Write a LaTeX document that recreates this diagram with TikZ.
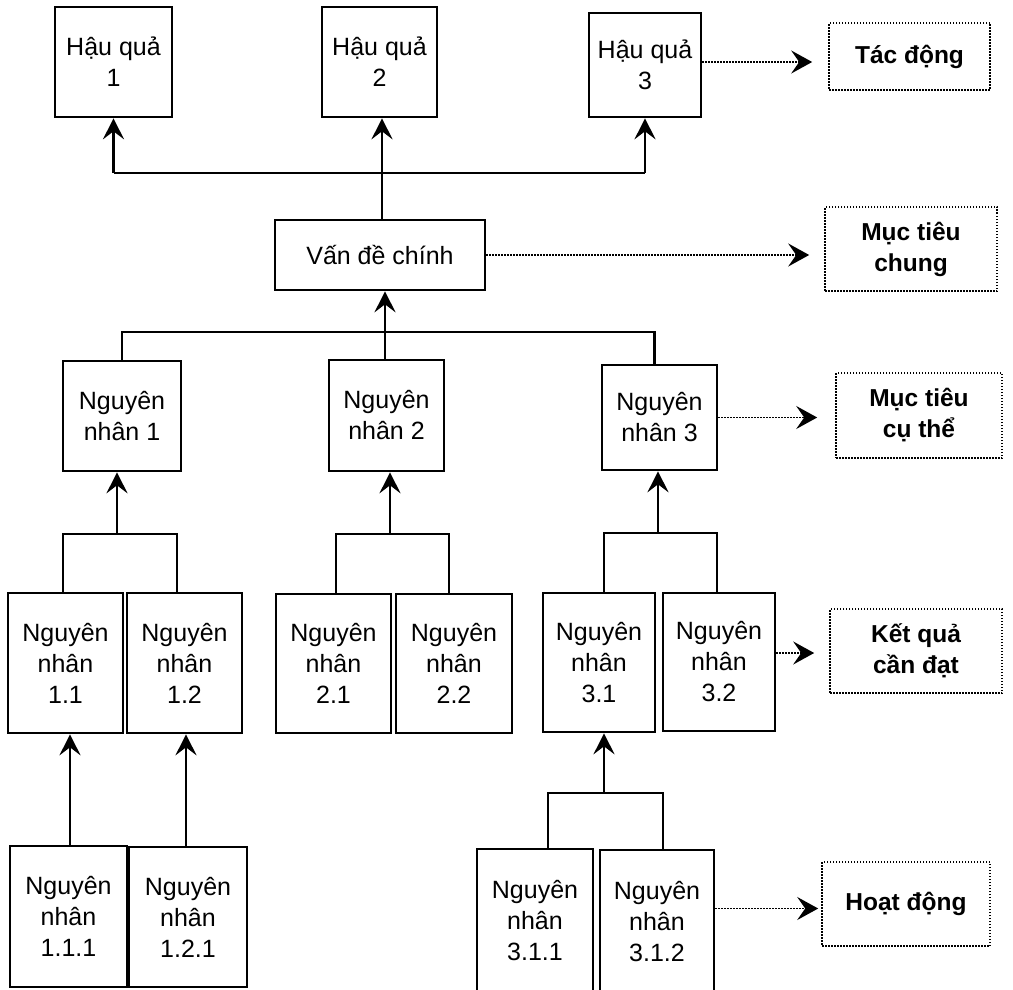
\documentclass[tikz,border=0pt]{standalone}
\usepackage{fontspec}
\setmainfont{Liberation Sans}
\usetikzlibrary{arrows.meta,calc}

% place a node by its corners: style, name, x1, y1, x2, y2, text
\newcommand\boxat[7]{%
  \node[#1, minimum width={(#5-#3)*1pt}, minimum height={(#6-#4)*1pt}]
    (#2) at ({(#3+#5)/2},{(#4+#6)/2}) {#7};}

\begin{document}
\begin{tikzpicture}[x=1pt,y=-1pt,
  box/.style={draw, line width=2.6pt, inner sep=0pt, align=center,
    font=\fontsize{25}{31}\selectfont},
  goal/.style={draw, line width=1.6pt, dash pattern=on 1.5pt off 1.5pt,
    inner sep=0pt, align=center, font=\fontsize{24.5}{31}\selectfont\bfseries},
  link/.style={line width=2.4pt},
  up/.style={link, -{Stealth[length=21pt,width=21pt,inset=8pt]}},
  lead/.style={line width=1.9pt, dash pattern=on 1.6pt off 1.4pt,
    -{Stealth[length=21pt,width=23pt,inset=8pt]}}
]
\useasboundingbox (0,0) rectangle (1013,990);
\clip (0,0) rectangle (1013,990);

% consequences
\boxat{box}{hq1}{55}{7}{172}{117}{Hậu quả\\1}
\boxat{box}{hq2}{322}{7}{437}{117}{Hậu quả\\2}
\boxat{box}{hq3}{589}{13}{701}{117}{Hậu quả\\3}

% core problem
\boxat{box}{vdc}{275}{220}{485}{290}{Vấn đề chính}

% causes
\boxat{box}{nn1}{63}{361}{181}{471}{Nguyên\\nhân 1}
\boxat{box}{nn2}{329}{360}{444}{471}{Nguyên\\nhân 2}
\boxat{box}{nn3}{602}{365}{717}{470}{Nguyên\\nhân 3}

\boxat{box}{nn11}{8}{593}{123}{733}{Nguyên\\nhân\\1.1}
\boxat{box}{nn12}{127}{593}{242}{733}{Nguyên\\nhân\\1.2}
\boxat{box}{nn21}{276}{594}{391}{733}{Nguyên\\nhân\\2.1}
\boxat{box}{nn22}{396}{594}{512}{733}{Nguyên\\nhân\\2.2}
\boxat{box}{nn31}{543}{593}{655}{732}{Nguyên\\nhân\\3.1}
\boxat{box}{nn32}{663}{593}{775}{731}{Nguyên\\nhân\\3.2}

\boxat{box}{nn111}{10}{846}{127}{987}{Nguyên\\nhân\\1.1.1}
\boxat{box}{nn121}{129}{847}{247}{987}{Nguyên\\nhân\\1.2.1}
\boxat{box}{nn311}{477}{849}{593}{993}{Nguyên\\nhân\\3.1.1}
\boxat{box}{nn312}{600}{850}{714}{993}{Nguyên\\nhân\\3.1.2}

% objective column
\boxat{goal}{td}{829}{23}{990}{90}{Tác động}
\boxat{goal}{mtc}{825}{207}{997}{291}{Mục tiêu\\chung}
\boxat{goal}{mtct}{836}{373}{1002}{458}{Mục tiêu\\cụ thể}
\boxat{goal}{kq}{830}{609}{1002}{693}{Kết quả\\cần đạt}
\boxat{goal}{hd}{822}{862}{990}{946}{Hoạt động}

% junction points of the tree
\coordinate (tb) at (382,173);
\coordinate (mb) at (385,332);
\coordinate (g1) at (117,534);
\coordinate (g2) at (390,534);
\coordinate (g3) at (658,533);
\coordinate (g31) at (604,793);

% core problem -> consequences
\draw[link] (tb -| hq1) -- (tb -| hq3);
\draw[up] (tb -| hq1) -- (hq1.south);
\draw[up] (vdc.north -| tb) -- (hq2.south -| tb);
\draw[up] (tb -| hq3) -- (hq3.south);

% causes -> core problem
\draw[link] (nn1.north) |- (mb) -| ([xshift=-5pt]nn3.north);
\draw[link] (mb) -- (mb |- nn2.north);
\draw[up] (mb) -- (mb |- vdc.south);

% sub-causes -> causes
\draw[link] ([xshift=-2.5pt]nn11.north) |- (g1) -| ([xshift=-7.5pt]nn12.north);
\draw[up] (g1) -- (g1 |- nn1.south);
\draw[link] ([xshift=2.5pt]nn21.north) |- (g2) -| ([xshift=-5pt]nn22.north);
\draw[up] (g2) -- (g2 |- nn2.south);
\draw[link] ([xshift=5pt]nn31.north) |- (g3) -| ([xshift=-2pt]nn32.north);
\draw[up] (g3) -- (g3 |- nn3.south);

% third level -> second level
\draw[up] ([xshift=1.5pt]nn111.north) -- ([xshift=1.5pt]nn111.north |- nn11.south);
\draw[up] ([xshift=-2pt]nn121.north) -- ([xshift=-2pt]nn121.north |- nn12.south);
\draw[link] ([xshift=13pt]nn311.north) |- (g31) -| ([xshift=6pt]nn312.north);
\draw[up] (g31) -- (g31 |- nn31.south);

% levels -> objectives
\draw[lead, shorten >=16pt] ([yshift=3pt]hq3.east) -- ([yshift=3pt]hq3.east -| td.west);
\draw[lead, shorten >=15pt] (vdc.east) -- (vdc.east -| mtc.west);
\draw[lead, shorten >=18pt] (nn3.east) -- (nn3.east -| mtct.west);
\draw[lead, shorten >=15pt] ([yshift=9pt]nn32.east) -- ([yshift=9pt]nn32.east -| kq.west);
\draw[lead, shorten >=3pt] ([yshift=13pt]nn312.east) -- ([yshift=13pt]nn312.east -| hd.west);
\end{tikzpicture}
\end{document}
